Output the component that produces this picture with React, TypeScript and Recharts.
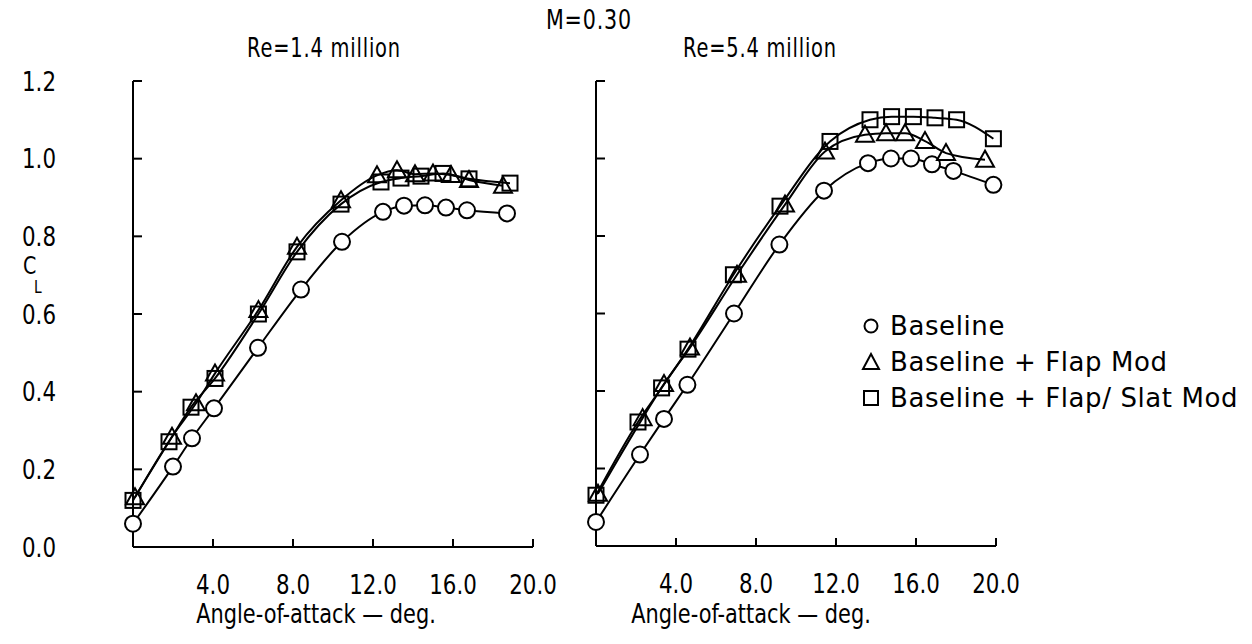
import React from 'react';
import { LineChart, Line, XAxis, YAxis } from 'recharts';

const xTicks = [4, 8, 12, 16, 20];
const xTickLabels = ['4.0', '8.0', '12.0', '16.0', '20.0'];
const yTicks = [0, 0.2, 0.4, 0.6, 0.8, 1.0, 1.2];
const yTickLabels = ['0.0', '0.2', '0.4', '0.6', '0.8', '1.0', '1.2'];

const seriesNames = ['Baseline', 'Baseline + Flap Mod', 'Baseline + Flap/ Slat Mod'];

// Re = 1.4 million
const leftBaseline = [
  { a: 0, cl: 0.06 }, { a: 2.0, cl: 0.207 }, { a: 2.95, cl: 0.28 }, { a: 4.05, cl: 0.357 },
  { a: 6.25, cl: 0.513 }, { a: 8.4, cl: 0.663 }, { a: 10.45, cl: 0.786 }, { a: 12.5, cl: 0.863 },
  { a: 13.55, cl: 0.879 }, { a: 14.6, cl: 0.88 }, { a: 15.65, cl: 0.874 }, { a: 16.7, cl: 0.867 },
  { a: 18.7, cl: 0.859 },
];
const leftFlap = [
  { a: 0.1, cl: 0.128 }, { a: 1.95, cl: 0.284 }, { a: 3.15, cl: 0.37 }, { a: 4.1, cl: 0.447 },
  { a: 6.27, cl: 0.61 }, { a: 8.2, cl: 0.773 }, { a: 10.4, cl: 0.893 }, { a: 12.2, cl: 0.957 },
  { a: 13.2, cl: 0.97 }, { a: 14.1, cl: 0.96 }, { a: 15.0, cl: 0.962 }, { a: 15.9, cl: 0.958 },
  { a: 16.8, cl: 0.945 }, { a: 18.5, cl: 0.93 },
];
const leftFlapSlat = [
  { a: 0, cl: 0.12 }, { a: 1.8, cl: 0.271 }, { a: 2.9, cl: 0.36 }, { a: 4.1, cl: 0.434 },
  { a: 6.27, cl: 0.6 }, { a: 8.2, cl: 0.76 }, { a: 10.4, cl: 0.883 }, { a: 12.4, cl: 0.94 },
  { a: 13.4, cl: 0.95 }, { a: 14.4, cl: 0.955 }, { a: 15.5, cl: 0.962 }, { a: 16.8, cl: 0.948 },
  { a: 18.85, cl: 0.937 },
];

// Re = 5.4 million
const rightBaseline = [
  { a: 0, cl: 0.062 }, { a: 2.2, cl: 0.236 }, { a: 3.4, cl: 0.328 }, { a: 4.57, cl: 0.416 },
  { a: 6.9, cl: 0.6 }, { a: 9.17, cl: 0.778 }, { a: 11.4, cl: 0.917 }, { a: 13.6, cl: 0.988 },
  { a: 14.75, cl: 1.0 }, { a: 15.75, cl: 1.0 }, { a: 16.8, cl: 0.985 }, { a: 17.87, cl: 0.968 },
  { a: 19.87, cl: 0.932 },
];
const rightFlap = [
  { a: 0.1, cl: 0.135 }, { a: 2.33, cl: 0.33 }, { a: 3.4, cl: 0.418 }, { a: 4.7, cl: 0.512 },
  { a: 7.05, cl: 0.7 }, { a: 9.45, cl: 0.881 }, { a: 11.45, cl: 1.018 }, { a: 13.45, cl: 1.061 },
  { a: 14.5, cl: 1.065 }, { a: 15.45, cl: 1.065 }, { a: 16.45, cl: 1.045 }, { a: 17.5, cl: 1.014 },
  { a: 19.45, cl: 0.997 },
];
const rightFlapSlat = [
  { a: 0, cl: 0.131 }, { a: 2.1, cl: 0.32 }, { a: 3.28, cl: 0.408 }, { a: 4.6, cl: 0.508 },
  { a: 6.87, cl: 0.7 }, { a: 9.2, cl: 0.877 }, { a: 11.7, cl: 1.044 }, { a: 13.7, cl: 1.1 },
  { a: 14.78, cl: 1.108 }, { a: 15.87, cl: 1.108 }, { a: 16.95, cl: 1.105 }, { a: 18.03, cl: 1.1 },
  { a: 19.87, cl: 1.051 },
];

const FONT = '"DejaVu Sans Condensed", "DejaVu Sans", sans-serif';
const LEGEND_FONT = '"DejaVu Sans", sans-serif';

const circleDot = (p: any) => (
  <circle key={`c${p.index}`} cx={p.cx} cy={p.cy} r={8} fill="#fff" stroke="#000" strokeWidth={2} />
);
const triangleDot = (p: any) => (
  <polygon
    key={`t${p.index}`}
    points={`${p.cx},${p.cy - 9} ${p.cx - 9},${p.cy + 7} ${p.cx + 9},${p.cy + 7}`}
    fill="none"
    stroke="#000"
    strokeWidth={2}
  />
);
const squareDot = (p: any) => (
  <rect key={`s${p.index}`} x={p.cx - 7.5} y={p.cy - 7.5} width={15} height={15} fill="none" stroke="#000" strokeWidth={2} />
);

const xTick = (props: any) => {
  const { x, y, payload } = props;
  const i = xTicks.indexOf(payload.value);
  return (
    <g>
      <line x1={x} y1={y} x2={x} y2={y - 8} stroke="#000" strokeWidth={2} />
      <text
        x={0}
        y={0}
        transform={`translate(${x}, ${y + 37}) scale(0.88, 1)`}
        textAnchor="middle"
        dominantBaseline="central"
        fontFamily={FONT}
        fontSize={27}
        fill="#000"
      >
        {i >= 0 ? xTickLabels[i] : ''}
      </text>
    </g>
  );
};

const makeYTick = (labelX: number | null) => (props: any) => {
  const { x, y, payload } = props;
  const i = yTicks.indexOf(payload.value);
  return (
    <g>
      <line x1={x} y1={y} x2={x + 9} y2={y} stroke="#000" strokeWidth={2} />
      {labelX !== null && (
        <text
          x={0}
          y={0}
          transform={`translate(${labelX}, ${y}) scale(0.88, 1)`}
          textAnchor="end"
          dominantBaseline="central"
          fontFamily={FONT}
          fontSize={27}
          fill="#000"
        >
          {i >= 0 ? yTickLabels[i] : ''}
        </text>
      )}
    </g>
  );
};

type PanelProps = {
  width: number;
  margin: { top: number; right: number; bottom: number; left: number };
  baseline: { a: number; cl: number }[];
  flap: { a: number; cl: number }[];
  flapSlat: { a: number; cl: number }[];
  labelX: number | null;
};

const Panel = ({ width, margin, baseline, flap, flapSlat, labelX }: PanelProps) => (
  <LineChart width={width} height={644} margin={margin}>
    <XAxis
      dataKey="a"
      type="number"
      domain={[0, 20]}
      ticks={xTicks}
      height={1}
      tickSize={0}
      tickMargin={0}
      tickLine={false}
      axisLine={{ stroke: '#000', strokeWidth: 2 }}
      tick={xTick}
      interval={0}
    />
    <YAxis
      type="number"
      domain={[0, 1.2]}
      ticks={yTicks}
      width={1}
      tickSize={0}
      tickMargin={0}
      tickLine={false}
      axisLine={{ stroke: '#000', strokeWidth: 2 }}
      tick={makeYTick(labelX)}
      interval={0}
    />
    <Line data={baseline} dataKey="cl" name={seriesNames[0]} type="monotone" stroke="#000" strokeWidth={2} dot={circleDot} activeDot={false} isAnimationActive={false} />
    <Line data={flap} dataKey="cl" name={seriesNames[1]} type="monotone" stroke="#000" strokeWidth={2} dot={triangleDot} activeDot={false} isAnimationActive={false} />
    <Line data={flapSlat} dataKey="cl" name={seriesNames[2]} type="monotone" stroke="#000" strokeWidth={2} dot={squareDot} activeDot={false} isAnimationActive={false} />
  </LineChart>
);

const textStyle: React.CSSProperties = {
  position: 'absolute',
  fontFamily: FONT,
  fontSize: 27,
  color: '#000',
  whiteSpace: 'nowrap',
  lineHeight: 1,
};

const LegendSymbol = ({ kind }: { kind: number }) => (
  <svg width={20} height={20} style={{ marginRight: 9 }}>
    {kind === 0 && <circle cx={10} cy={10} r={6.5} fill="none" stroke="#000" strokeWidth={2} />}
    {kind === 1 && <polygon points="10,2 2,17 18,17" fill="none" stroke="#000" strokeWidth={2} />}
    {kind === 2 && <rect x={3} y={3} width={14} height={14} fill="none" stroke="#000" strokeWidth={2} />}
  </svg>
);

export default function App() {
  return (
    <div style={{ position: 'absolute', left: 0, top: 0, width: 1252, height: 644, background: '#fff', overflow: 'hidden' }}>
      <div style={{ position: 'absolute', left: 0, top: 0 }}>
        <Panel
          width={560}
          margin={{ top: 81, right: 27, bottom: 96, left: 132 }}
          baseline={leftBaseline}
          flap={leftFlap}
          flapSlat={leftFlapSlat}
          labelX={56}
        />
      </div>
      <div style={{ position: 'absolute', left: 560, top: 0 }}>
        <Panel
          width={692}
          margin={{ top: 81, right: 256, bottom: 97, left: 35 }}
          baseline={rightBaseline}
          flap={rightFlap}
          flapSlat={rightFlapSlat}
          labelX={null}
        />
      </div>

      <div style={{ ...textStyle, left: 589, top: 19, transform: 'translate(-50%, -50%) scaleX(0.85)', letterSpacing: 1 }}>M=0.30</div>
      <div style={{ ...textStyle, left: 324, top: 47, transform: 'translate(-50%, -50%) scaleX(0.8)', letterSpacing: 1 }}>Re=1.4 million</div>
      <div style={{ ...textStyle, left: 760, top: 47, transform: 'translate(-50%, -50%) scaleX(0.8)', letterSpacing: 1 }}>Re=5.4 million</div>

      <div style={{ ...textStyle, left: 23, top: 253, fontSize: 25, transform: 'scaleX(0.85)', transformOrigin: 'left top' }}>C</div>
      <div style={{ ...textStyle, left: 34, top: 279, fontSize: 17, transform: 'scaleX(0.9)', transformOrigin: 'left top' }}>L</div>

      <div style={{ ...textStyle, left: 316, top: 613, transform: 'translate(-50%, -50%) scaleX(0.86)' }}>Angle-of-attack — deg.</div>
      <div style={{ ...textStyle, left: 751, top: 613, transform: 'translate(-50%, -50%) scaleX(0.86)' }}>Angle-of-attack — deg.</div>

      <div style={{ position: 'absolute', left: 861, top: 308 }}>
        {seriesNames.map((n, i) => (
          <div key={n} style={{ display: 'flex', alignItems: 'center', height: 36, fontFamily: LEGEND_FONT, fontSize: 26, letterSpacing: 0.6, color: '#000', whiteSpace: 'nowrap' }}>
            <LegendSymbol kind={i} />
            <span>{n}</span>
          </div>
        ))}
      </div>
    </div>
  );
}
